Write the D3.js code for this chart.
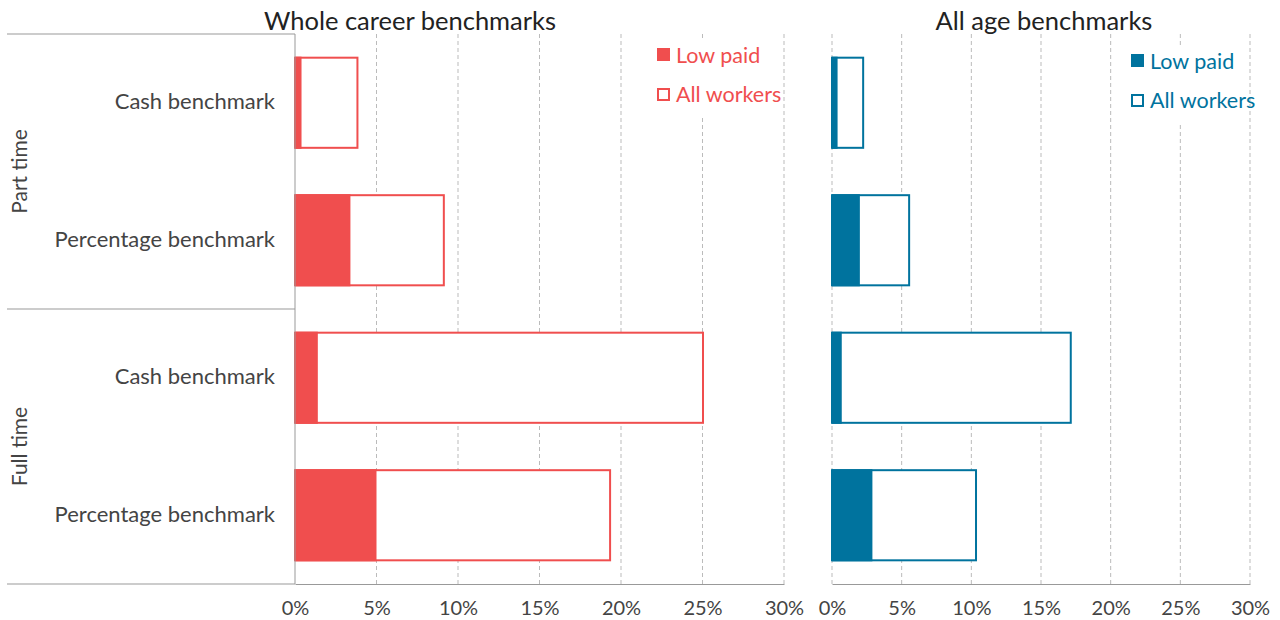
<!DOCTYPE html>
<html><head><meta charset="utf-8">
<script src="https://cdn.jsdelivr.net/npm/d3@7"></script>
<style>body{margin:0;background:#fff}svg{display:block}text{font-family:Lato,"Open Sans",sans-serif}</style>
</head><body><svg id="c" width="1280" height="620"></svg>
<script>
const groups = ["Part time", "Full time"];
const categories = ["PT|Cash benchmark", "PT|Percentage benchmark", "FT|Cash benchmark", "FT|Percentage benchmark"];
const categoryLabels = ["Cash benchmark", "Percentage benchmark", "Cash benchmark", "Percentage benchmark"];
const wholeLow = [0.4, 3.4, 1.4, 5.0];
const wholeAll = [3.8, 9.1, 25.0, 19.3];
const ageLow = [0.4, 2.0, 0.7, 2.9];
const ageAll = [2.2, 5.5, 17.1, 10.3];
const ticks = [0, 5, 10, 15, 20, 25, 30];
const seriesNames = ["Low paid", "All workers"];

(function(){
const svg = d3.select("#c");
const yTop = 34, yBot = 584;
const y = d3.scaleBand().domain(categories).range([yTop, yBot]).paddingInner(0.33).paddingOuter(0.165);
const gridC = "#bbb", axisC = "#999", textC = "#444";

svg.append("line").attr("x1", 7).attr("x2", 295).attr("y1", yTop).attr("y2", yTop).attr("stroke", axisC);
svg.append("line").attr("x1", 7).attr("x2", 295).attr("y1", (yTop+yBot)/2).attr("y2", (yTop+yBot)/2).attr("stroke", axisC);
categories.forEach((c, i) => {
  svg.append("text").attr("x", 275).attr("y", y(c) + y.bandwidth()/2).attr("dy", "0.3em")
    .attr("text-anchor", "end").attr("font-size", 22).attr("fill", textC).text(categoryLabels[i]);
});
groups.forEach((g, i) => {
  const cy = yTop + (yBot-yTop)/4*(2*i+1);
  svg.append("text").attr("transform", `translate(27,${cy}) rotate(-90)`).attr("text-anchor", "middle")
    .attr("font-size", 21).attr("fill", textC).text(g);
});

function panel(x0, x1, low, all, color, title, titleX, legX, legY, zeroSolid) {
  const x = d3.scaleLinear().domain([0, 30]).range([x0, x1]);
  const g = svg.append("g");
  ticks.forEach(t => {
    if (t === 0 && zeroSolid) return;
    g.append("line").attr("x1", x(t)).attr("x2", x(t)).attr("y1", yTop).attr("y2", yBot)
      .attr("stroke", gridC).attr("stroke-dasharray", "4,3");
  });
  g.append("rect").attr("x", legX - 12).attr("y", legY - 10).attr("width", x1 - legX + 11).attr("height", 78).attr("fill", "#fff");
  categories.forEach((c, i) => {
    g.append("rect").attr("x", x(0)).attr("y", y(c) + 1).attr("width", x(all[i]) - x(0) + 0.5).attr("height", y.bandwidth() - 2)
      .attr("fill", "#fff").attr("stroke", color).attr("stroke-width", 2);
    g.append("rect").attr("x", x(0)).attr("y", y(c)).attr("width", x(low[i]) - x(0)).attr("height", y.bandwidth())
      .attr("fill", color);
  });
  const ax = d3.axisBottom(x).tickValues(ticks).tickSize(0).tickPadding(17).tickFormat(d => d + "%");
  const ag = g.append("g").attr("transform", `translate(0,${yBot})`).call(ax);
  ag.select(".domain").attr("stroke", axisC);
  ag.selectAll("text").attr("font-size", 20).attr("fill", textC).attr("font-family", "Lato,sans-serif");
  if (zeroSolid) g.append("line").attr("x1", x(0)).attr("x2", x(0)).attr("y1", yTop).attr("y2", yBot).attr("stroke", axisC);
  g.append("text").attr("x", titleX).attr("y", 30).attr("text-anchor", "middle")
    .attr("font-size", 25.5).attr("fill", "#222").text(title);
  seriesNames.forEach((s, i) => {
    const yy = legY + i * 39;
    if (i === 0) g.append("rect").attr("x", legX).attr("y", yy - 1).attr("width", 13).attr("height", 13).attr("fill", color);
    else g.append("rect").attr("x", legX + 1).attr("y", yy + 1).attr("width", 11).attr("height", 11).attr("fill", "#fff").attr("stroke", color).attr("stroke-width", 2);
    g.append("text").attr("x", legX + 19).attr("y", yy + 6).attr("dy", "0.35em").attr("font-size", 21.5).attr("fill", color).text(s);
  });
}
svg.append("line").attr("x1", 7).attr("x2", 295).attr("y1", yBot).attr("y2", yBot).attr("stroke", axisC);
panel(295, 784, wholeLow, wholeAll, "#f04e4e", "Whole career benchmarks", 410, 657, 49, true);
panel(832, 1250, ageLow, ageAll, "#00739e", "All age benchmarks", 1044, 1131, 55, false);
})();
</script></body></html>
